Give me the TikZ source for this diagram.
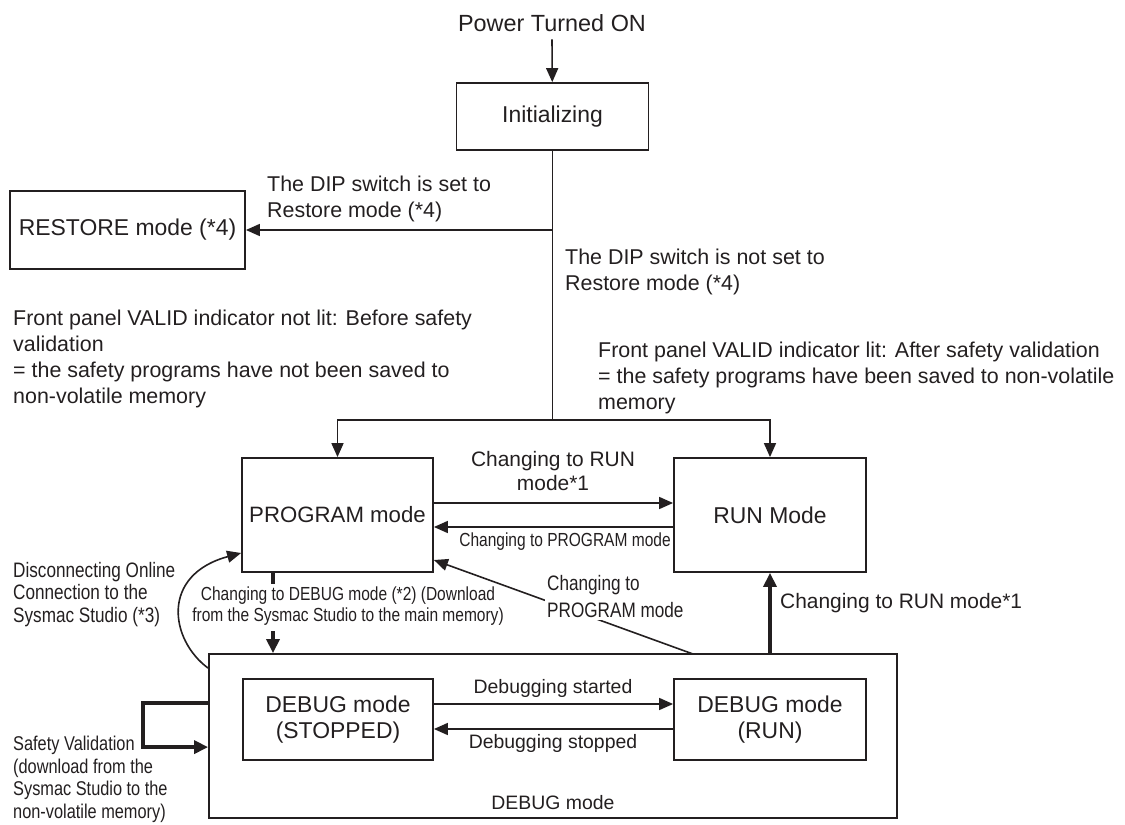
\documentclass[tikz,border=0pt]{standalone}
\usepackage{fontspec}
\setmainfont{Liberation Sans}
\newfontfamily\narrowfont[FakeStretch=0.82]{Liberation Sans}
\usetikzlibrary{arrows.meta,positioning,calc}
\definecolor{Ink}{RGB}{35,31,32}

\begin{document}
\begin{tikzpicture}[
      x=1bp,y=-1bp,
      modeBox/.style={draw=Ink,text=Ink,line width=1.8bp,inner sep=0pt,align=center,
                      minimum width=192bp,font=\fontsize{23}{26}\selectfont},
      noteText/.style={inner sep=0pt,align=left,anchor=west,text=Ink,
                       font=\fontsize{21.5}{26}\selectfont},
      narrowText/.style={inner sep=0pt,align=left,anchor=west,text=Ink,
                         font=\narrowfont\fontsize{21}{22.5}\selectfont},
      arThin/.style={-{Triangle[length=14bp,width=12bp]},line width=1.6bp,draw=Ink},
      arThick/.style={-{Triangle[length=14bp,width=13bp]},line width=3.4bp,draw=Ink}
    ]
    \useasboundingbox (0,0) rectangle (1125,825);

    % Start and state boxes
    \node(power)[text=Ink,inner sep=0pt,font=\fontsize{23.5}{26}\selectfont] at (552,23) {Power Turned ON};
    \node(init)[modeBox,minimum height=67bp] at (552.5,116.5) {Initializing};
    \node(restore)[modeBox,minimum width=235bp,minimum height=78bp] at (127.5,230) {RESTORE mode (*4)};
    \node(prog)[modeBox,minimum width=191bp,minimum height=114bp,font=\fontsize{22.3}{26}\selectfont] at (337.5,515) {PROGRAM mode};
    \node(run)[modeBox,minimum height=114bp] at (770,515) {RUN Mode};

    % DEBUG mode group
    \node(debug)[modeBox,minimum width=688bp,minimum height=164bp] at (553,736) {};
    \node(dbgStop)[modeBox,minimum width=190bp,minimum height=81bp] at (338,719.5) {DEBUG mode\\(STOPPED)};
    \node(dbgRun)[modeBox,minimum height=81bp] at (770,719.5) {DEBUG mode\\(RUN)};
    \node(debugLbl)[text=Ink,inner sep=0pt,font=\fontsize{19.5}{22}\selectfont] at (553,803) {DEBUG mode};

    % Notes
    \node(dipSet)[noteText] at (267,199) {The DIP switch is set to\\Restore mode (*4)};
    \node(dipNot)[noteText] at (565,272) {The DIP switch is not set to\\Restore mode (*4)};
    \node(notLit)[noteText] at (13,359) {Front panel VALID indicator not lit: Before safety\\validation\\= the safety programs have not been saved to\\non-volatile memory};
    \node(lit)[noteText] at (598,378) {Front panel VALID indicator lit: After safety validation\\= the safety programs have been saved to non-volatile\\memory};

    % Power-up flow
    \coordinate(split) at (552.5,420);
    \draw[arThin] ([yshift=-7.5bp]power.south) -- (init);
    \draw[Ink,line width=1.6bp] (init.south) -- (split);
    \draw[arThin] (init.south |- restore.east) -- (restore.east);
    \draw[arThin] (split) -| (prog.north);
    \draw[arThin] (split) -| (run.north);

    % PROGRAM <-> RUN
    \draw[arThin] ([yshift=12bp]prog.east) -- ([yshift=12bp]run.west);
    \draw[arThin] ([yshift=-12bp]run.west) -- ([yshift=-12bp]prog.east);
    \node(toRun)[noteText,align=center,anchor=center,font=\fontsize{21}{24}\selectfont] at (553,471) {Changing to RUN\\mode*1};
    \node(toProg)[narrowText,anchor=center,font=\narrowfont\fontsize{19}{22}\selectfont] at (565,542) {Changing to PROGRAM mode};

    % DEBUG -> PROGRAM (diagonal)
    \coordinate(diagS) at (693,654);
    \draw[arThin] (diagS) -- ([yshift=-45bp]prog.east);
    \node(toProgB)[narrowText,fill=white,inner sep=2bp,font=\narrowfont\fontsize{21}{27}\selectfont] at (545,596.5) {Changing to\\PROGRAM mode};

    % DEBUG -> RUN
    \draw[arThick] (run.south |- debug.north) -- (run.south);
    \node(toRunB)[noteText,font=\fontsize{21}{24}\selectfont] at (780,603) {Changing to RUN mode*1};

    % PROGRAM -> DEBUG
    \coordinate(dbgIn) at (273,631);
    \draw[Ink,line width=3.4bp] ([xshift=-64.5bp]prog.south) -- ++(0,11);
    \draw[arThick] (dbgIn) -- (dbgIn |- debug.north);
    \node(toDebug)[narrowText,align=center,anchor=center,font=\narrowfont\fontsize{19}{21}\selectfont] at (348,606) {Changing to DEBUG mode (*2) (Download\\from the Sysmac Studio to the main memory)};

    % Disconnecting loop
    \draw[arThin] ([yshift=-15bp]debug.north west) .. controls (170,640) and (160,575) .. ([yshift=-38bp]prog.west);
    \node(disconn)[narrowText] at (13,594.5) {Disconnecting Online\\Connection to the\\Sysmac Studio (*3)};

    % Safety validation loop
    \draw[arThick,line width=4bp] ([yshift=-50bp]debug.north west) -- ++(-65,0) |- ([yshift=-94bp]debug.north west);
    \node(safety)[narrowText,font=\narrowfont\fontsize{20}{22.7}\selectfont] at (13,779.5) {Safety Validation\\(download from the\\Sysmac Studio to the\\non-volatile memory)};

    % Debugging start / stop
    \draw[arThin] ([yshift=15.5bp]dbgStop.east) -- ([yshift=15.5bp]dbgRun.west);
    \draw[arThin] ([yshift=-9.5bp]dbgRun.west) -- ([yshift=-9.5bp]dbgStop.east);
    \node(dbgStartL)[text=Ink,inner sep=0pt,font=\fontsize{19.5}{22}\selectfont] at (553,688) {Debugging started};
    \node(dbgStopL)[text=Ink,inner sep=0pt,font=\fontsize{19.5}{22}\selectfont] at (553,743) {Debugging stopped};
  \end{tikzpicture}
\end{document}
